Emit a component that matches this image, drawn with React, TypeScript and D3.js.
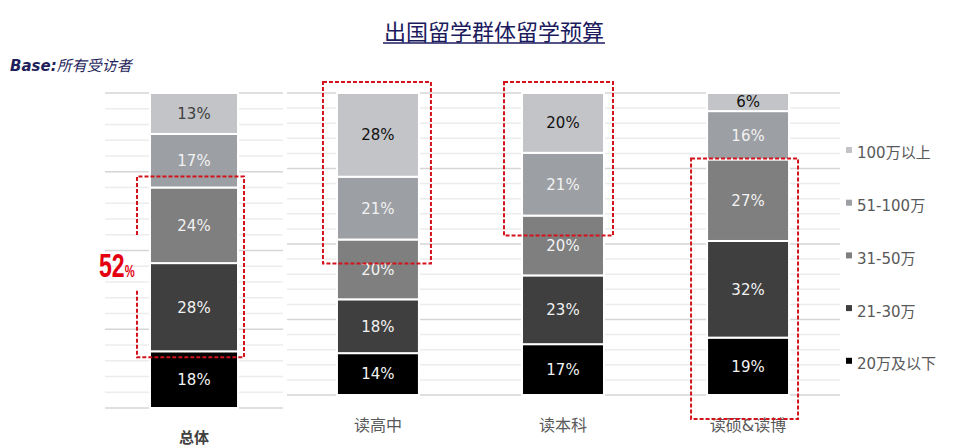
import React from 'react';
import * as d3 from 'd3';

// budget bands, bottom to top
const bands = ['20万及以下', '21-30万', '31-50万', '51-100万', '100万以上'];
const bandColors = ['#000000', '#3f3f3f', '#7f7f7f', '#9c9fa4', '#c2c4c7'];

const totalCat = ['总体'];
const totalValues = [[18, 28, 24, 17, 13]];

const groupCats = ['读高中', '读本科', '读硕&读博'];
const groupValues = [
  [14, 18, 20, 21, 28],
  [17, 23, 20, 21, 20],
  [19, 32, 27, 16, 6],
];

// red dashed highlight boxes: category, first..last band covered, padding (l, r, t, b)
const highlights = [
  { cat: '总体', from: 1, to: 2, pad: [13, 6, 11, 6] },
  { cat: '读高中', from: 3, to: 4, pad: [14, 12, 11, 24] },
  { cat: '读本科', from: 3, to: 4, pad: [18, 9, 11, 20] },
  { cat: '读硕&读博', from: 0, to: 2, pad: [16, 9, 1, 24] },
];

const W = 976;
const H = 448;
const font = '"DejaVu Sans", "Noto Sans CJK SC", sans-serif';
const red = '#d3121b';

function stackRows(cats: string[], values: number[][]) {
  const rows = cats.map((c, i) => {
    const r: any = { cat: c };
    bands.forEach((b, j) => (r[b] = values[i][j]));
    return r;
  });
  return d3.stack<any>().keys(bands).offset(d3.stackOffsetExpand)(rows);
}

function Panel({ cats, values, x, y, gridX, labelBold }: any) {
  const series = stackRows(cats, values);
  const ticks = d3.range(0, 1.0001, 0.05);
  return (
    <g>
      {ticks.map((t, i) => (
        <line
          key={i}
          x1={gridX[0]}
          x2={gridX[1]}
          y1={y(t)}
          y2={y(t)}
          stroke={i % 5 === 0 ? '#d6d6d6' : '#ececec'}
          strokeWidth={1.5}
        />
      ))}
      {series.map((s: any, si: number) => (
        <g key={s.key}>
          {s.map((d: any, ci: number) => {
            const y0 = y(d[0]);
            const y1 = y(d[1]);
            const top = si === bands.length - 1;
            return (
              <g key={ci}>
                <rect
                  x={x(d.data.cat)}
                  width={x.bandwidth()}
                  y={y1}
                  height={y0 - y1}
                  fill={bandColors[si]}
                  stroke="#fff"
                  strokeWidth={2}
                />
                <text
                  x={x(d.data.cat) + x.bandwidth() / 2}
                  y={(y0 + y1) / 2}
                  dy="0.36em"
                  textAnchor="middle"
                  fontFamily={font}
                  fontSize={15}
                  fill={top ? (d.data.cat === '总体' ? '#404040' : '#111') : '#f2f2f2'}
                >
                  {values[ci][si]}%
                </text>
              </g>
            );
          })}
        </g>
      ))}
      {cats.map((c: string) => (
        <text
          key={c}
          x={x(c) + x.bandwidth() / 2}
          y={labelBold ? 438 : 425}
          dy="0.36em"
          textAnchor="middle"
          fontFamily={font}
          fontSize={labelBold ? 15 : 16}
          fontWeight={labelBold ? 'bold' : 'normal'}
          fill={labelBold ? '#404040' : '#595959'}
        >
          {c}
        </text>
      ))}
    </g>
  );
}

export default function App() {
  const yTotal = d3.scaleLinear().domain([0, 1]).range([408, 93]);
  const xTotal = d3.scaleBand().domain(totalCat).range([105, 283]).paddingInner(0).paddingOuter(0.511);

  const yGroup = d3.scaleLinear().domain([0, 1]).range([395, 93]);
  const xGroup = d3.scaleBand().domain(groupCats).range([287, 839]).paddingInner(0.557).paddingOuter(0.27);

  const boxes = highlights.map((h) => {
    const isTotal = h.cat === '总体';
    const x = isTotal ? xTotal : xGroup;
    const y = isTotal ? yTotal : yGroup;
    const cats = isTotal ? totalCat : groupCats;
    const vals = isTotal ? totalValues : groupValues;
    const series = stackRows(cats, vals);
    const ci = cats.indexOf(h.cat);
    const lo = series[h.from][ci][0];
    const hi = series[h.to][ci][1];
    return {
      x0: (x(h.cat) as number) - h.pad[0],
      x1: (x(h.cat) as number) + x.bandwidth() + h.pad[1],
      y0: y(hi) - h.pad[2],
      y1: y(lo) + h.pad[3],
      isTotal,
    };
  });

  const dash = { stroke: red, strokeWidth: 2, strokeDasharray: '4 2', fill: 'none' };

  return (
    <svg width={W} height={H} style={{ position: 'absolute', left: 0, top: 0, background: '#fff' }}>
      <text
        x={494}
        y={40}
        textAnchor="middle"
        fontFamily='"Noto Sans CJK SC", sans-serif'
        fontSize={22}
        fill="#1b1b5e"
      >
        出国留学群体留学预算
      </text>
      <line x1={383} x2={605} y1={43} y2={43} stroke="#1b1b5e" strokeWidth={1.5} />
      <text x={10} y={71} fontFamily={font} fontSize={15} fontStyle="italic" fontWeight="bold" fill="#1f1f5c">
        Base:<tspan fontWeight="normal">所有受访者</tspan>
      </text>

      <Panel cats={totalCat} values={totalValues} x={xTotal} y={yTotal} gridX={[105, 283]} labelBold />
      <Panel cats={groupCats} values={groupValues} x={xGroup} y={yGroup} gridX={[287, 840]} />

      {boxes.map((b, i) =>
        b.isTotal ? (
          <g key={i} {...dash}>
            <polyline points={`${b.x0},235 ${b.x0},${b.y0} ${b.x1},${b.y0} ${b.x1},${b.y1} ${b.x0},${b.y1} ${b.x0},290`} />
          </g>
        ) : (
          <rect key={i} x={b.x0} y={b.y0} width={b.x1 - b.x0} height={b.y1 - b.y0} {...dash} />
        )
      )}
      <g transform="translate(99,277) scale(0.7,1)" fill="#e3000f" fontFamily='"Liberation Sans", sans-serif' fontWeight="bold">
        <text x={0} y={0} fontSize={33}>
          52<tspan fontSize={16}>%</tspan>
        </text>
      </g>

      {bands
        .slice()
        .reverse()
        .map((b, i) => {
          const cy = 153 + i * 52.7;
          const color = bandColors[bands.length - 1 - i];
          return (
            <g key={b}>
              <rect x={846} y={cy - 6} width={6} height={6} fill={color} />
              <text x={857} y={cy} dy="0.36em" fontFamily={font} fontSize={15} fill="#595959">
                {b}
              </text>
            </g>
          );
        })}
    </svg>
  );
}
